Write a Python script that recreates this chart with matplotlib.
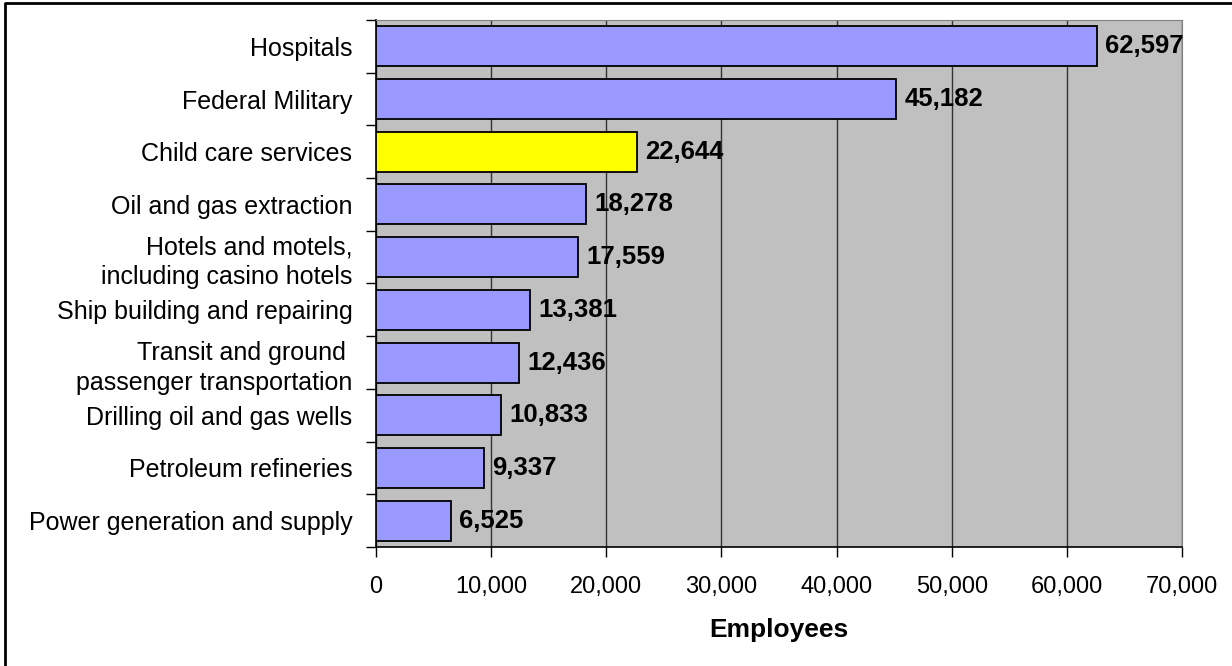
import matplotlib
matplotlib.use('Agg')
import matplotlib.pyplot as plt
from matplotlib.lines import Line2D
from matplotlib.ticker import FuncFormatter, FixedLocator

plt.rcParams['font.family'] = ['Liberation Sans', 'DejaVu Sans']

industries = ['Hospitals', 'Federal Military', 'Child care services',
              'Oil and gas extraction', 'Hotels and motels,\nincluding casino hotels',
              'Ship building and repairing', 'Transit and ground \npassenger transportation',
              'Drilling oil and gas wells', 'Petroleum refineries',
              'Power generation and supply']
employees = [62597, 45182, 22644, 18278, 17559, 13381, 12436, 10833, 9337, 6525]
highlight = 'Child care services'

fig = plt.figure(figsize=(12.32, 6.66), dpi=100)
ax = fig.add_axes([376/1232, 1 - 547/666, (1182 - 376)/1232, (547 - 20)/666])
ax.set_facecolor('#C0C0C0')

pos = list(range(len(industries)))
colors = ['#FFFF00' if n == highlight else '#9999FF' for n in industries]
ax.barh(pos, employees, height=0.76, color=colors, edgecolor='black',
        linewidth=1.3, zorder=3)
for p, v in zip(pos, employees):
    ax.annotate(f'{v:,}', (v, p), xytext=(6, 0), textcoords='offset points',
                va='center', ha='left', fontsize=18.5, fontweight='bold', zorder=4)

ax.set_ylim(len(industries) - 0.5, -0.5)
ax.set_xlim(0, 70000)
ax.set_yticks(pos)
ax.set_yticklabels(industries, fontsize=18, linespacing=1.3)
ax.tick_params(axis='y', length=0, pad=17)
ax.yaxis.set_minor_locator(FixedLocator([p + 0.5 for p in range(-1, len(industries))]))
ax.tick_params(axis='y', which='minor', length=7, width=1, color='black')

ax.set_xticks(range(0, 70001, 10000))
ax.xaxis.set_major_formatter(FuncFormatter(lambda x, _: f'{int(x):,}'))
ax.tick_params(axis='x', labelsize=17, length=7, width=1, pad=14)
ax.grid(axis='x', color='#333333', linewidth=1, zorder=1)
ax.set_axisbelow(True)
ax.set_xlabel('Employees', fontsize=19, fontweight='bold', labelpad=14)

for s in ['top', 'right']:
    ax.spines[s].set_color('#808080')
for s in ['left', 'bottom']:
    ax.spines[s].set_color('black')
    ax.spines[s].set_linewidth(1.2)

fig.add_artist(Line2D([5/1232, 5/1232, 1], [0, 663/666, 663/666],
                      transform=fig.transFigure, color='black', linewidth=2))

fig.savefig('out.png', dpi=100)
